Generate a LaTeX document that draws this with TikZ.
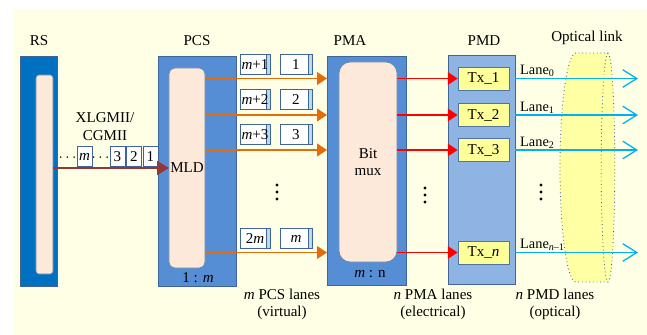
\documentclass[tikz,border=0pt]{standalone}
\usepackage{fontspec}
\setmainfont{Liberation Serif}
\usetikzlibrary{arrows.meta, positioning}
\definecolor{bgcolor}{RGB}{255,255,229}
\definecolor{rscolor}{RGB}{0,112,192}
\definecolor{pcscolor}{RGB}{85,142,213}
\definecolor{pmdcolor}{RGB}{142,180,227}
\definecolor{edgecolor}{RGB}{65,100,150}
\definecolor{peach}{RGB}{253,233,217}
\definecolor{laneorange}{RGB}{228,108,10}
\definecolor{lanered}{RGB}{255,0,0}
\definecolor{indarkred}{RGB}{149,55,53}
\definecolor{lanecyan}{RGB}{0,176,240}
\definecolor{txfill}{RGB}{255,255,153}
\definecolor{stripcolor}{RGB}{183,222,232}
\newcommand{\labelfont}{\fontsize{10.7}{12.5}\selectfont}
\newcommand{\lanedots}[1]{%
  \fill (#1) ++(0,-7) circle[radius=1.1pt];
  \fill (#1) circle[radius=1.1pt];
  \fill (#1) ++(0,7) circle[radius=1.1pt];
}
\tikzset{
  layer/.style={
    rectangle, draw=edgecolor, line width=0.6pt,
    inner sep=0pt, outer sep=0pt
  },
  core/.style={
    rectangle, rounded corners=4pt,
    draw=edgecolor!80, line width=0.5pt, fill=peach,
    inner sep=0pt, outer sep=0pt
  },
  txblock/.style={
    rectangle, draw=edgecolor!90, line width=0.5pt, fill=txfill,
    minimum width=1.275cm, minimum height=0.575cm, inner sep=0pt
  },
  pkt/.style={
    rectangle, draw=edgecolor, line width=0.5pt, fill=white,
    minimum height=0.5cm, inner sep=0pt
  },
  lanepkt/.style={
    pkt, anchor=south,
    path picture={
      \fill[stripcolor] ([xshift=-0.09cm]path picture bounding box.north east)
        rectangle (path picture bounding box.south east);
      \draw[edgecolor, line width=0.5pt]
        ([xshift=-0.09cm]path picture bounding box.north east)
        -- ([xshift=-0.09cm]path picture bounding box.south east);
    }
  },
  lanelbl/.style={font=\fontsize{10.2}{11}\selectfont, anchor=south west,
    inner sep=1pt, xshift=2.5pt},
  inarr/.style={-{Triangle[length=8.5pt, width=10pt]}, line width=0.9pt, color=indarkred},
  orarr/.style={-{Triangle[length=7pt, width=9pt]}, line width=1.1pt, color=laneorange},
  redarr/.style={-{Triangle[length=7pt, width=9pt]}, line width=1.1pt, color=lanered},
  cyarr/.style={-{Straight Barb[length=10pt, width=12.5pt]}, line width=0.9pt, color=lanecyan}
}

\begin{document}
\begin{tikzpicture}[x=0.025cm, y=-0.025cm, font=\labelfont]

  % -- frame ---------------------------------------------------------
  \useasboundingbox (0,0) rectangle (647,335);
  \fill[bgcolor] (13,9) rectangle (647,335);

  % -- RS --------------------------------------------------------------
  \node[layer, fill=rscolor, minimum width=0.925cm, minimum height=5.75cm]
    (rs) at (38.5,171) {};
  \node[core, rounded corners=2pt, minimum width=0.425cm, minimum height=4.975cm]
    (rsin) at (44.5,174.5) {};
  \node (rslbl) at (39,41) {RS};

  % -- PCS -------------------------------------------------------------
  \node[layer, fill=pcscolor, minimum width=1.95cm, minimum height=5.75cm]
    (pcs) at (197,171) {};
  \node[core, minimum width=0.9cm, minimum height=5cm] (mld) at (187,168) {MLD};
  \node (pcslbl) at (197,41) {PCS};
  \node (pcsratio) at (198,278) {1 : \textit{m}};

  % -- PMA -------------------------------------------------------------
  \node[layer, fill=pcscolor, minimum width=1.975cm, minimum height=5.725cm]
    (pma) at (366.5,170.5) {};
  \node[core, rounded corners=8pt, minimum width=1.45cm, minimum height=5cm,
        align=center] (mux) at (368,162) {Bit\\mux};
  \node (pmalbl) at (350,41) {PMA};
  \node (pmaratio) at (370,274) {\textit{m} : n};

  % -- PMD -------------------------------------------------------------
  \node[layer, fill=pmdcolor, minimum width=1.675cm, minimum height=5.725cm]
    (pmd) at (481.5,169.5) {};
  \node (pmdlbl) at (484,41) {PMD};
  \node[txblock] (tx1) at (483.5,78.5) {Tx\_1};
  \node[txblock] (tx2) at (483.5,115) {Tx\_2};
  \node[txblock] (tx3) at (483.5,150) {Tx\_3};
  \node[txblock] (txn) at (483.5,252.5) {Tx\_\textit{n}};

  % -- Optical link (cylinder) -----------------------------------------
  \filldraw[fill=txfill, fill opacity=0.85, draw=edgecolor, dotted, line width=0.6pt]
    (576,53) arc[start angle=90, end angle=270, x radius=0.4cm, y radius=2.8625cm]
    -- (608,282) arc[start angle=-90, end angle=90, x radius=0.17cm, y radius=2.8625cm]
    -- cycle;
  \draw[edgecolor, dotted, line width=0.6pt]
    (608,53) arc[start angle=90, end angle=270, x radius=0.17cm, y radius=2.8625cm];
  \node (linklbl) at (587,38) {Optical link};
  \coordinate (linkend) at (638,0);

  % -- RS -> PCS input stream ------------------------------------------
  \node (xlgmii) at (105,126.5) [align=center] {XLGMII/\\CGMII};
  \node[pkt, minimum width=0.375cm, anchor=south] (in1) at (150.5,167) {1};
  \node[pkt, minimum width=0.375cm, anchor=south] (in2) at (134,167) {2};
  \node[pkt, minimum width=0.375cm, anchor=south] (in3) at (117.5,167) {3};
  \node[inner sep=0pt] (indots2) at (100.5,158) {$\cdots$};
  \node[pkt, minimum width=0.375cm, anchor=south] (inm) at (84.5,167) {\textit{m}};
  \node[inner sep=0pt] (indots1) at (67.5,158) {$\cdots$};
  \draw[inarr] (rsin.east |- mld.west) -- (mld.west);

  % -- PCS lanes (virtual) ---------------------------------------------
  \node[lanepkt, minimum width=0.75cm] (pa1) at (255,75) {\textit{m}+1};
  \node[lanepkt, minimum width=0.8cm]  (pb1) at (296,75) {1};
  \node[lanepkt, minimum width=0.75cm] (pa2) at (255,110) {\textit{m}+2};
  \node[lanepkt, minimum width=0.8cm]  (pb2) at (296,110) {2};
  \node[lanepkt, minimum width=0.75cm] (pa3) at (255,145) {\textit{m}+3};
  \node[lanepkt, minimum width=0.8cm]  (pb3) at (296,145) {3};
  \node[lanepkt, minimum width=0.75cm] (pam) at (255,249) {2\textit{m}};
  \node[lanepkt, minimum width=0.8cm]  (pbm) at (296,249) {\textit{m}};
  \coordinate (pcsdots) at (277,192);
  \lanedots{pcsdots}

  \draw[orarr] (mld.east |- tx1.west) -- (pma.west |- tx1.west);
  \draw[orarr] (mld.east |- tx2.west) -- (pma.west |- tx2.west);
  \draw[orarr] (mld.east |- tx3.west) -- (pma.west |- tx3.west);
  \draw[orarr] (mld.east |- txn.west) -- (pma.west |- txn.west);

  % -- PMA lanes (electrical) ------------------------------------------
  \coordinate (pmadots) at (425,195);
  \lanedots{pmadots}
  \draw[redarr] (mux.east |- tx1.west) -- (tx1.west);
  \draw[redarr] (mux.east |- tx2.west) -- (tx2.west);
  \draw[redarr] (mux.east |- tx3.west) -- (tx3.west);
  \draw[redarr] (mux.east |- txn.west) -- (txn.west);

  % -- PMD lanes (optical) ---------------------------------------------
  \coordinate (pmddots) at (541,192);
  \lanedots{pmddots}
  \draw[cyarr] (pmd.east |- tx1.east) -- (linkend |- tx1.east);
  \draw[cyarr] (pmd.east |- tx2.east) -- (linkend |- tx2.east);
  \draw[cyarr] (pmd.east |- tx3.east) -- (linkend |- tx3.east);
  \draw[cyarr] (pmd.east |- txn.east) -- (linkend |- txn.east);
  \node[lanelbl] (lane0) at (pmd.east |- tx1.east) {Lane\textsubscript{0}};
  \node[lanelbl] (lane1) at (pmd.east |- tx2.east) {Lane\textsubscript{1}};
  \node[lanelbl] (lane2) at (pmd.east |- tx3.east) {Lane\textsubscript{2}};
  \node[lanelbl] (lanen) at (pmd.east |- txn.east) {Lane\textsubscript{\textit{n}\textendash1}};

  % -- bottom captions -------------------------------------------------
  \node[align=center] (pcscap) at (282,304.5) {\textit{m} PCS lanes\\(virtual)};
  \node[align=center] (pmacap) at (433,304.5) {\textit{n} PMA lanes\\(electrical)};
  \node[align=center] (pmdcap) at (555,304.5) {\textit{n} PMD lanes\\(optical)};

\end{tikzpicture}
\end{document}
